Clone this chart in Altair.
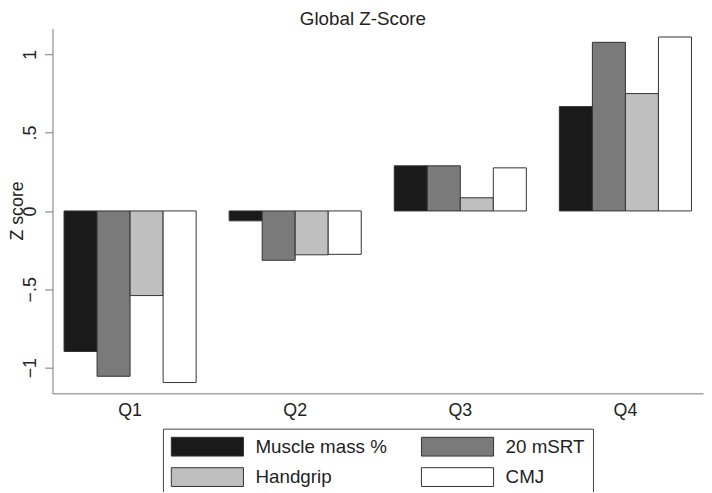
import altair as alt
import pandas as pd

quartiles = ["Q1", "Q2", "Q3", "Q4"]
series = ["Muscle mass %", "20 mSRT", "Handgrip", "CMJ"]
fills = ["#1a1a1a", "#7a7a7a", "#bfbfbf", "#ffffff"]

muscle_mass = [-0.897, -0.063, 0.288, 0.666]
msrt_20 = [-1.055, -0.315, 0.288, 1.076]
handgrip = [-0.54, -0.28, 0.084, 0.749]
cmj = [-1.095, -0.277, 0.275, 1.11]

y_ticks = [-1, -0.5, 0, 0.5, 1]
chart_title = "Global Z-Score"

rows = []
for name, vals in zip(series, [muscle_mass, msrt_20, handgrip, cmj]):
    for q, v in zip(quartiles, vals):
        rows.append({"quartile": q, "measure": name, "z": v})
df = pd.DataFrame(rows)

FONT = "Liberation Sans"
# wide legend swatch: 19px tall, 73px wide, starting at the entry's left edge
swatch = "M-1,-1H6.68V1H-1Z"

bars = alt.Chart(df).mark_bar(stroke="#333333", strokeWidth=1).encode(
    x=alt.X(
        "quartile:N",
        sort=quartiles,
        title=None,
        scale=alt.Scale(paddingInner=0.2, paddingOuter=0.07),
        axis=alt.Axis(labelAngle=0, ticks=False, labelPadding=8, domainColor="#777777",
                      labelFontSize=18, labelColor="#222222", labelFont=FONT),
    ),
    xOffset=alt.XOffset("measure:N", sort=series,
                        scale=alt.Scale(paddingInner=0, paddingOuter=0)),
    y=alt.Y(
        "z:Q",
        title="Z score",
        scale=alt.Scale(domain=[-1.164, 1.164], nice=False, zero=False),
        axis=alt.Axis(
            values=y_ticks,
            grid=False,
            labelExpr="replace(format(datum.value, '.1~f'), '0.', '.')",
            labelAngle=270,
            labelAlign="center",
            labelBaseline="bottom",
            labelPadding=5,
            labelFontSize=18,
            labelColor="#222222",
            labelFont=FONT,
            tickSize=8,
            tickColor="#777777",
            domainColor="#777777",
            titleFontSize=18,
            titleFontWeight="normal",
            titleColor="#222222",
            titleFont=FONT,
            titleAngle=270,
            titleAlign="center",
            titleBaseline="alphabetic",
            titleX=-30,
            titleY=184,
        ),
    ),
    color=alt.Color(
        "measure:N",
        sort=series,
        scale=alt.Scale(domain=series, range=fills),
        legend=alt.Legend(
            title=None,
            orient="none",
            legendX=111.7,
            legendY=404.7,
            columns=2,
            direction="horizontal",
            strokeColor="#444444",
            padding=8,
            symbolType=swatch,
            symbolSize=361,
            symbolStrokeColor="#333333",
            symbolStrokeWidth=1,
            symbolOpacity=1,
            labelFontSize=19,
            labelFont=FONT,
            labelColor="#222222",
            labelOffset=65.6,
            labelExpr="datum.label + ' '",
            rowPadding=7,
            columnPadding=32,
        ),
    ),
)

title_text = alt.Chart(pd.DataFrame({"t": [chart_title]})).mark_text(
    font=FONT, fontSize=19, color="#222222", align="center", baseline="alphabetic"
).encode(text="t:N", x=alt.value(314), y=alt.value(-4))

chart = alt.layer(bars, title_text).properties(
    width=658,
    height=369,
    autosize=alt.AutoSizeParams(type="none"),
    padding={"left": 45, "top": 18, "right": 1, "bottom": 97},
).configure_view(stroke=None)

chart.save("out.html", embed_options={"renderer": "svg", "actions": False})
